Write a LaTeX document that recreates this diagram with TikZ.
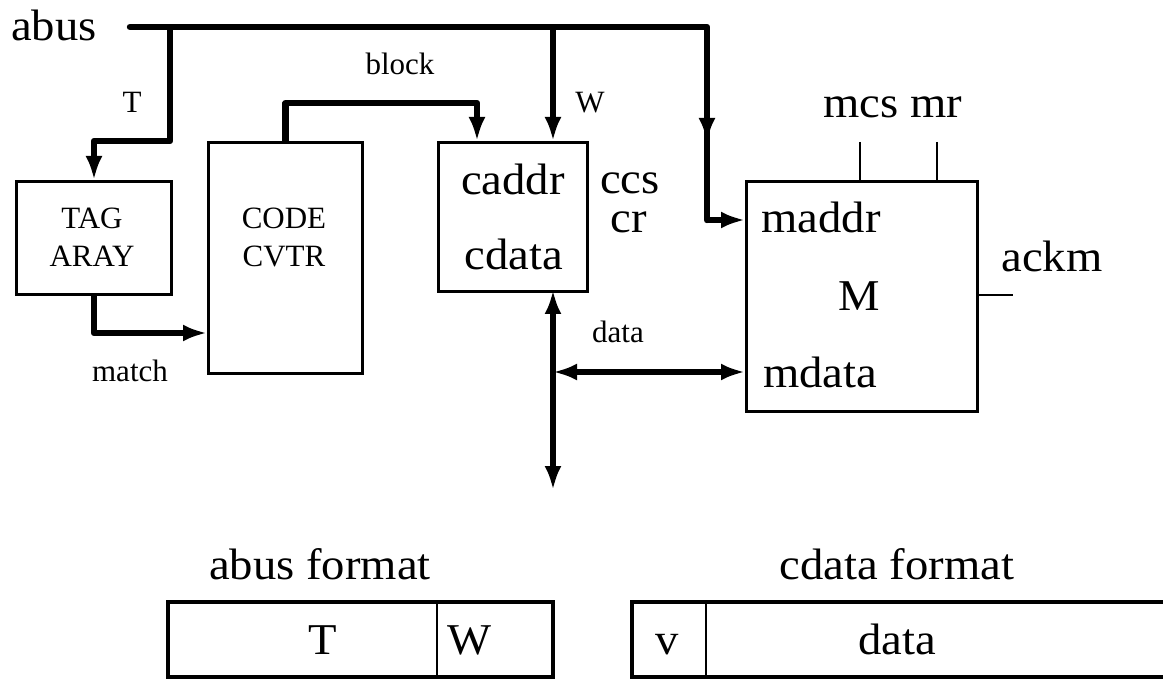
\documentclass[tikz,border=0pt]{standalone}
\usepackage{fontspec}
\setmainfont{Liberation Serif}
\newfontfamily\bigf{Liberation Serif}[FakeStretch=1.06]
\usetikzlibrary{arrows.meta}
\tikzset{
  bus/.style={line width=3.2pt, line join=round},
  arr/.style={-{Latex[length=12pt,width=8.5pt]}},
  arrboth/.style={{Latex[length=12pt,width=8.5pt]}-{Latex[length=12pt,width=8.5pt]}},
  box/.style={draw, line width=1.5pt, inner sep=0pt, anchor=north west},
  thinline/.style={line width=0.7pt},
  fmt/.style={line width=2pt},
  divider/.style={line width=0.6pt},
  big/.style={font=\bigf\fontsize{22}{26}\selectfont, inner sep=0pt, anchor=base},
  small/.style={font=\fontsize{15.5}{19}\selectfont, inner sep=0pt, anchor=base},
}
\begin{document}
\begin{tikzpicture}[x=0.5pt, y=-0.5pt]
\useasboundingbox (0,0) rectangle (1163,679);

% blocks
\node[box, minimum width=77.5pt, minimum height=56.5pt] (tag) at (15,180) {};
\node[box, minimum width=77pt, minimum height=115.5pt] (code) at (207,141) {};
\node[box, minimum width=74.5pt, minimum height=74.5pt] (cbox) at (437,141) {};
\node[box, minimum width=115.5pt, minimum height=115pt] (mbox) at (745,180) {};

% block texts
\node[small] (tagA) at (92,229) {TAG};
\node[small] (tagB) at (92,267) {ARAY};
\node[small] (codeA) at (284,229) {CODE};
\node[small] (codeB) at (284,267) {CVTR};
\node[big] (caddr) at (513,195) {caddr};
\node[big] (cdata) at (514,270) {cdata};
\node[big] (ccs) at (630,194) {ccs};
\node[big] (cr) at (629,233) {cr};
\node[big] (maddr) at (821,233) {maddr};
\node[big] (mdata) at (820,387) {mdata};
\node[big] (mname) at (859,311) {M};
\node[big] (ackm) at (1052,272) {ackm};
\node[big] (mcsmr) at (893,118) {mcs mr};
\node[big] (abus) at (54,41) {abus};

% signal labels
\node[small] (lT) at (132,113) {T};
\node[small] (lblock) at (400,75) {block};
\node[small] (lW) at (590,113) {W};
\node[small] (lmatch) at (130,382) {match};
\node[small] (ldata) at (618,343) {data};

% points on the buses
\coordinate (busL) at (130,27);
\coordinate (busR) at (707,27);
\coordinate (tapT) at (170,27);
\coordinate (tapW) at (553,27);
\coordinate (downTail) at (707,100);
\coordinate (downTip) at (707,142);
\coordinate (busBend) at (707,220);
\coordinate (pMaddr) at (745,220);
\coordinate (blockC) at (477,103);
\coordinate (tagC) at (170,141);
\coordinate (pMatch) at (207,333);
\coordinate (pDataTop) at (553,290);
\coordinate (pDataBot) at (553,490);
\coordinate (pJ) at (553,372);
\coordinate (pMdata) at (745,372);
\coordinate (mcsTop) at (860,142);
\coordinate (mrTop) at (937,142);
\coordinate (ackmR) at (1013,295);

% address bus
\draw[bus, line cap=round] (busL) -- (busR) -- (busBend);
\draw[bus, arr] (busBend) -- (pMaddr);
\draw[bus, arr] (downTail) -- (downTip);
\draw[bus, arr] (tapT) -- (tagC) -- (tagC -| tag.north) -- (tag.north);
\draw[bus, arr] (tapW) -- (tapW |- cbox.north);
\draw[bus, arr] (code.north) |- (blockC) -- (blockC |- cbox.north);
\draw[bus, arr] (tag.south) |- (pMatch);

% data bus
\draw[bus, arrboth] (pDataTop) -- (pDataBot);
\draw[bus, arrboth] (pJ) -- (pMdata);

% control lines
\draw[thinline] (mcsTop) -- (mcsTop |- mbox.north);
\draw[thinline] (mrTop) -- (mrTop |- mbox.north);
\draw[thinline] (mbox.east |- ackmR) -- (ackmR);

% field formats
\node[big] (abusfmt) at (320,579) {abus format};
\node[big] (cdatafmt) at (897,579) {cdata format};
\draw[fmt] (168,602) rectangle (553,677);
\draw[divider] (437,602) -- (437,677);
\node[big] (fT) at (323,654) {T};
\node[big] (fW) at (470,654) {W};
\draw[fmt] (1168,602) -- (632,602) -- (632,677) -- (1168,677);
\draw[divider] (706,602) -- (706,677);
\node[big] (fv) at (667,654) {v};
\node[big] (fdata) at (897,654) {data};
\end{tikzpicture}
\end{document}
